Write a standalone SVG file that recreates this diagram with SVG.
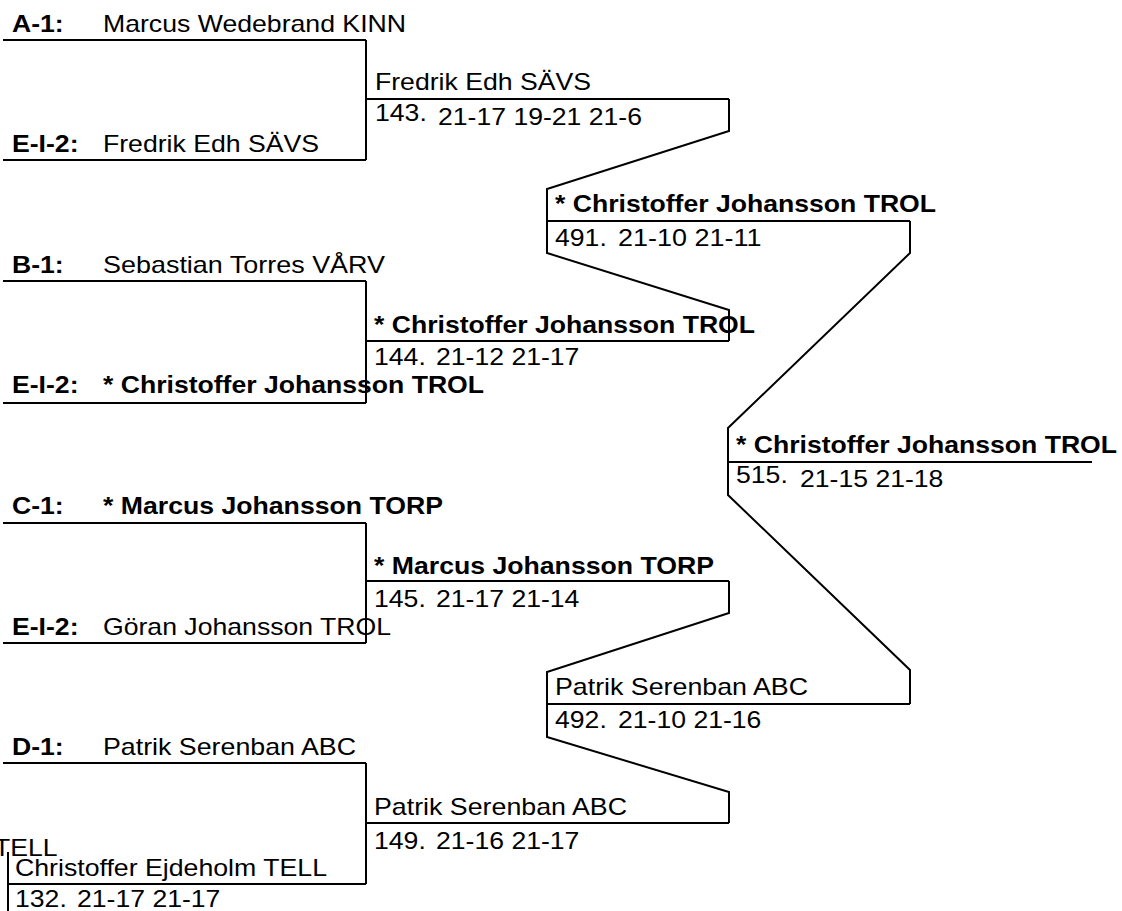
<svg xmlns="http://www.w3.org/2000/svg" width="1122" height="911" viewBox="0 0 1122 911">
<style>
text{font-family:"Liberation Sans",Arial,sans-serif;font-size:24px;fill:#000}
.b{font-weight:bold}
.ln{stroke:#000;stroke-width:2;fill:none}
</style>
<rect width="1122" height="911" fill="#fff"/>
<g id="connectors" class="ln">
<path d="M366,40 V160"/>
<path d="M366,281 V403"/>
<path d="M366,523 V643"/>
<path d="M366,763 V884"/>
<path d="M729,99 V131 L547,189 V253 L729,310 V341"/>
<path d="M729,581 V613 L547,672 V737 L729,792 V823"/>
<path d="M910,221 V253 L728,428 V495 L910,670 V704"/>
<path d="M8,852 V915"/>
</g>
<g id="slot-A1"><path class="ln" d="M3,40 H366"/><text class="b" x="12" y="32" textLength="51.7" lengthAdjust="spacingAndGlyphs">A-1:</text><text x="103" y="32" textLength="303" lengthAdjust="spacingAndGlyphs">Marcus Wedebrand KINN</text></g>
<g id="slot-A2"><path class="ln" d="M3,160 H366"/><text class="b" x="12" y="152" textLength="66.5" lengthAdjust="spacingAndGlyphs">E-I-2:</text><text x="103" y="152" textLength="216" lengthAdjust="spacingAndGlyphs">Fredrik Edh SÄVS</text></g>
<g id="slot-B1"><path class="ln" d="M3,281 H366"/><text class="b" x="12" y="273" textLength="51.7" lengthAdjust="spacingAndGlyphs">B-1:</text><text x="103" y="273" textLength="282" lengthAdjust="spacingAndGlyphs">Sebastian Torres VÅRV</text></g>
<g id="slot-B2"><path class="ln" d="M3,403 H366"/><text class="b" x="12" y="393" textLength="66.5" lengthAdjust="spacingAndGlyphs">E-I-2:</text><text class="b" x="103" y="393" textLength="381" lengthAdjust="spacingAndGlyphs">* Christoffer Johansson TROL</text></g>
<g id="slot-C1"><path class="ln" d="M3,523 H366"/><text class="b" x="12" y="514" textLength="51.7" lengthAdjust="spacingAndGlyphs">C-1:</text><text class="b" x="103" y="514" textLength="340" lengthAdjust="spacingAndGlyphs">* Marcus Johansson TORP</text></g>
<g id="slot-C2"><path class="ln" d="M3,643 H366"/><text class="b" x="12" y="635" textLength="66.5" lengthAdjust="spacingAndGlyphs">E-I-2:</text><text x="103" y="635" textLength="288" lengthAdjust="spacingAndGlyphs">Göran Johansson TROL</text></g>
<g id="slot-D1"><path class="ln" d="M3,763 H366"/><text class="b" x="12" y="755" textLength="51.7" lengthAdjust="spacingAndGlyphs">D-1:</text><text x="103" y="755" textLength="253" lengthAdjust="spacingAndGlyphs">Patrik Serenban ABC</text></g>
<g id="prev-tell"><text x="-6" y="856" textLength="63.6" lengthAdjust="spacingAndGlyphs">TELL</text></g>
<g id="match-132"><path class="ln" d="M8,884 H366"/><text x="15" y="876" textLength="312" lengthAdjust="spacingAndGlyphs">Christoffer Ejdeholm TELL</text><text x="15" y="907" textLength="51.8" lengthAdjust="spacingAndGlyphs">132.</text><text x="77" y="907" textLength="143.4" lengthAdjust="spacingAndGlyphs">21-17 21-17</text></g>
<g id="match-143"><path class="ln" d="M366,99 H729"/><text x="375" y="90" textLength="216" lengthAdjust="spacingAndGlyphs">Fredrik Edh SÄVS</text><text x="375" y="121" textLength="51.8" lengthAdjust="spacingAndGlyphs">143.</text><text x="438" y="125" textLength="204" lengthAdjust="spacingAndGlyphs">21-17 19-21 21-6</text></g>
<g id="match-144"><path class="ln" d="M366,341 H729"/><text class="b" x="374" y="333" textLength="381" lengthAdjust="spacingAndGlyphs">* Christoffer Johansson TROL</text><text x="374" y="365" textLength="51.8" lengthAdjust="spacingAndGlyphs">144.</text><text x="436" y="365" textLength="143.4" lengthAdjust="spacingAndGlyphs">21-12 21-17</text></g>
<g id="match-145"><path class="ln" d="M366,581 H729"/><text class="b" x="374" y="574" textLength="340" lengthAdjust="spacingAndGlyphs">* Marcus Johansson TORP</text><text x="374" y="607" textLength="51.8" lengthAdjust="spacingAndGlyphs">145.</text><text x="436" y="607" textLength="143.4" lengthAdjust="spacingAndGlyphs">21-17 21-14</text></g>
<g id="match-149"><path class="ln" d="M366,823 H729"/><text x="374" y="815" textLength="253" lengthAdjust="spacingAndGlyphs">Patrik Serenban ABC</text><text x="374" y="849" textLength="51.8" lengthAdjust="spacingAndGlyphs">149.</text><text x="436" y="849" textLength="143.4" lengthAdjust="spacingAndGlyphs">21-16 21-17</text></g>
<g id="match-491"><path class="ln" d="M547,221 H910"/><text class="b" x="555" y="212" textLength="381" lengthAdjust="spacingAndGlyphs">* Christoffer Johansson TROL</text><text x="555" y="246" textLength="51.8" lengthAdjust="spacingAndGlyphs">491.</text><text x="618" y="246" textLength="143.4" lengthAdjust="spacingAndGlyphs">21-10 21-11</text></g>
<g id="match-492"><path class="ln" d="M547,704 H910"/><text x="555" y="695" textLength="253" lengthAdjust="spacingAndGlyphs">Patrik Serenban ABC</text><text x="555" y="728" textLength="51.8" lengthAdjust="spacingAndGlyphs">492.</text><text x="618" y="728" textLength="143.4" lengthAdjust="spacingAndGlyphs">21-10 21-16</text></g>
<g id="match-515"><path class="ln" d="M728,462 H1092"/><text class="b" x="736" y="453" textLength="381" lengthAdjust="spacingAndGlyphs">* Christoffer Johansson TROL</text><text x="736" y="483" textLength="51.8" lengthAdjust="spacingAndGlyphs">515.</text><text x="800" y="487" textLength="143.4" lengthAdjust="spacingAndGlyphs">21-15 21-18</text></g>
</svg>
